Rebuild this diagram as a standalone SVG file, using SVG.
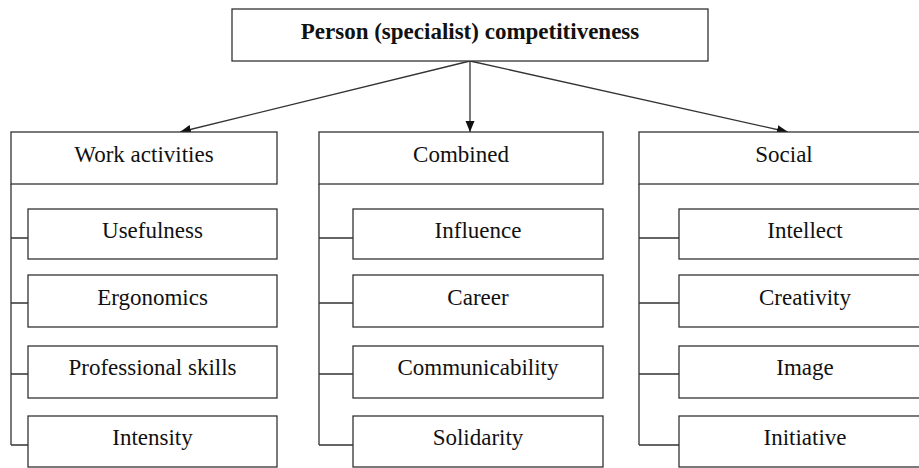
<svg xmlns="http://www.w3.org/2000/svg" width="919" height="468" viewBox="0 0 919 468" font-family="'Liberation Serif', 'DejaVu Serif', serif">
<style>
.box{fill:#fff;stroke:#333;stroke-width:1.3}
.ln{fill:none;stroke:#333;stroke-width:1.3}
text{font-family:'Liberation Serif','DejaVu Serif',serif;font-size:23px;fill:#111;text-anchor:middle}
.b{font-weight:bold}
</style>
<defs>
<marker id="ah" markerUnits="userSpaceOnUse" markerWidth="12" markerHeight="10" refX="11" refY="4.5" orient="auto">
<path d="M0,0 L11,4.5 L0,9 z" fill="#111"/>
</marker>
</defs>
<rect width="919" height="468" fill="#fff"/>
<g id="connectors">
<line class="ln" x1="470" y1="61" x2="180" y2="132" marker-end="url(#ah)"/>
<line class="ln" x1="470" y1="61" x2="470" y2="132" marker-end="url(#ah)"/>
<line class="ln" x1="470" y1="61" x2="788" y2="132" marker-end="url(#ah)"/>
<path class="ln" d="M11,184 V445 M11,238 H28 M11,303 H28 M11,374 H28 M11,445 H28"/>
<path class="ln" d="M319,184 V445 M319,238 H353 M319,303 H353 M319,374 H353 M319,445 H353"/>
<path class="ln" d="M639,184 V445 M639,238 H679 M639,303 H679 M639,374 H679 M639,445 H679"/>
</g>
<g id="root"><rect class="box" x="232" y="9" width="476" height="52"/><text class="b" x="470" y="39" font-family="Liberation Serif">Person (specialist) competitiveness</text></g>
<g id="work"><rect class="box" x="11" y="132" width="266" height="52"/><text x="144" y="161.5">Work activities</text></g>
<g id="combined"><rect class="box" x="319" y="132" width="284" height="52"/><text x="461" y="161.5">Combined</text></g>
<g id="social"><rect class="box" x="639" y="132" width="290" height="52"/><text x="784" y="161.5">Social</text></g>
<g id="usefulness"><rect class="box" x="28" y="209" width="249" height="50"/><text x="152.5" y="238">Usefulness</text></g>
<g id="ergonomics"><rect class="box" x="28" y="275" width="249" height="52"/><text x="152.5" y="305">Ergonomics</text></g>
<g id="professional"><rect class="box" x="28" y="346" width="249" height="52"/><text x="152.5" y="375">Professional skills</text></g>
<g id="intensity"><rect class="box" x="28" y="416" width="249" height="51"/><text x="152.5" y="445">Intensity</text></g>
<g id="influence"><rect class="box" x="353" y="209" width="250" height="50"/><text x="478" y="238">Influence</text></g>
<g id="career"><rect class="box" x="353" y="275" width="250" height="52"/><text x="478" y="305">Career</text></g>
<g id="communicability"><rect class="box" x="353" y="346" width="250" height="52"/><text x="478" y="375">Communicability</text></g>
<g id="solidarity"><rect class="box" x="353" y="416" width="250" height="51"/><text x="478" y="445">Solidarity</text></g>
<g id="intellect"><rect class="box" x="679" y="209" width="252" height="50"/><text x="805" y="238">Intellect</text></g>
<g id="creativity"><rect class="box" x="679" y="275" width="252" height="52"/><text x="805" y="305">Creativity</text></g>
<g id="image"><rect class="box" x="679" y="346" width="252" height="52"/><text x="805" y="375">Image</text></g>
<g id="initiative"><rect class="box" x="679" y="416" width="252" height="51"/><text x="805" y="445">Initiative</text></g>
</svg>
